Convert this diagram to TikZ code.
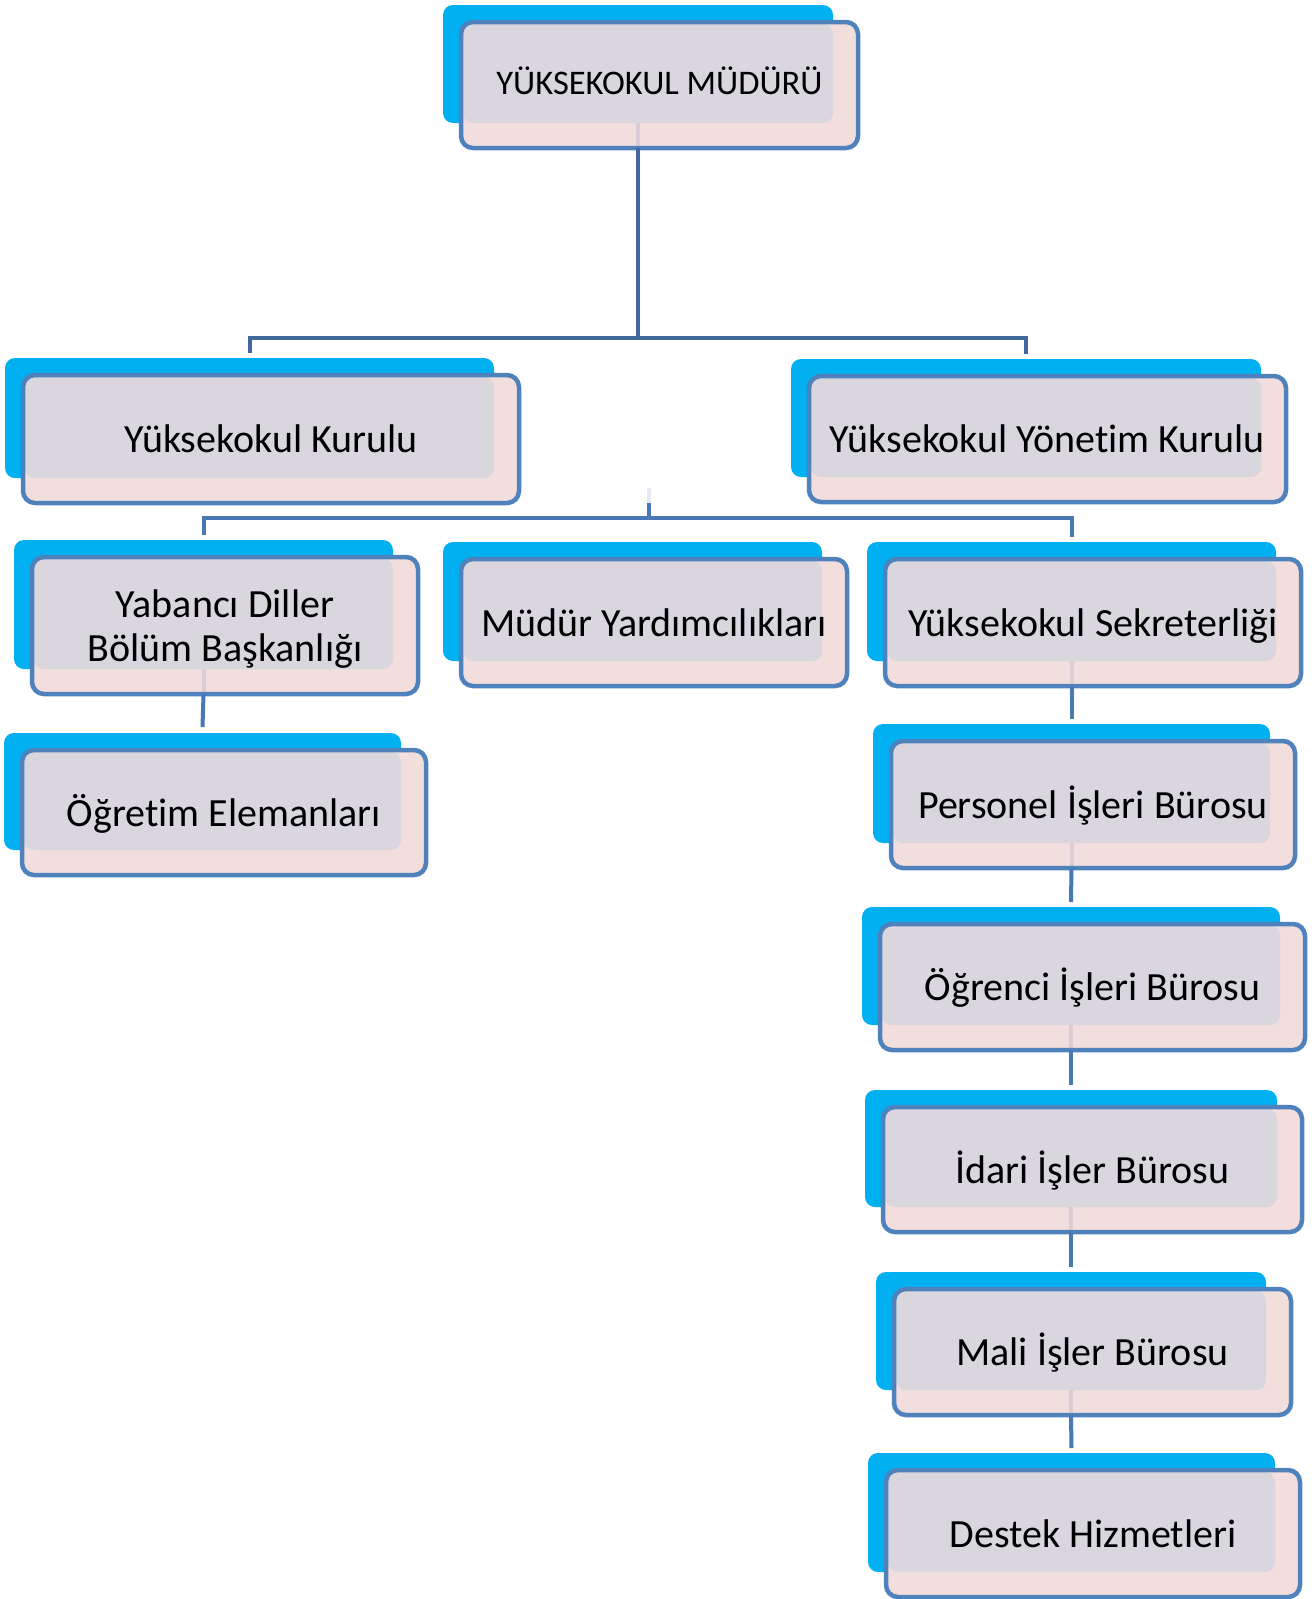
\documentclass[tikz,border=0pt]{standalone}
\usepackage{fontspec}
\setmainfont{Carlito}[Ligatures={NoCommon}]
\usetikzlibrary{calc}
\definecolor{bkblue}{HTML}{00B0F0}
\definecolor{pinkc}{HTML}{F2DEDD}
\definecolor{greyc}{HTML}{D9D6DE}
\definecolor{bordc}{HTML}{4F81BD}
\definecolor{connA}{HTML}{41679D}
\definecolor{connB}{HTML}{4A78B4}
\definecolor{paleA}{HTML}{D9CDD6}
\definecolor{paleB}{HTML}{E6EAF4}
\pgfdeclarelayer{bk}
\pgfdeclarelayer{mid}
\pgfsetlayers{bk,mid,main}
\tikzset{
  front/.style={draw=bordc, line width=4.5pt, rounded corners=12pt, inner sep=0pt, outer sep=0pt,
     align=center, text=black, font=\fontsize{40}{44}\selectfont, text height=27.5pt, text depth=0pt},
  titlefront/.style={front, font=\fontsize{34.5}{40}\selectfont, text height=18pt},
  twoline/.style={front, text height=71.5pt},
  back/.style={fill=bkblue, rounded corners=10pt, inner sep=0pt, outer sep=0pt},
  conn1/.style={draw=connA, line width=4pt},
  conn2/.style={draw=connB, line width=4pt},
  paleline/.style={draw=paleA, line width=4pt},
  palehub/.style={draw=paleB, line width=4pt}
}
% #1 style, #2 name, #3 L, #4 T, #5 R, #6 B, #7 text
\newcommand\orgbox[7]{%
  \node[#1, minimum width={#5-#3}, minimum height={#6-#4}] (#2) at ({(#3+#5)/2},{(#4+#6)/2}) {#7};
  \begin{pgfonlayer}{bk}
    \node[back, minimum width={#5-#3-7}, minimum height={#6-#4-8}] (#2b) at ({(#3+#5)/2-21.5},{(#4+#6)/2-21}) {};
  \end{pgfonlayer}
  \begin{pgfonlayer}{mid}
    \fill[pinkc, rounded corners=12pt] (#2.north west) rectangle (#2.south east);
    \fill[greyc, rounded corners=10pt] ($(#2.north west)+(2,2)$) rectangle (#2b.south east);
  \end{pgfonlayer}
}
% faint part of an outgoing connector seen through the box
\newcommand\palelink[1]{%
  \begin{pgfonlayer}{mid}
    \draw[paleline] (#1b.south) -- (#1b.south |- #1.south);
  \end{pgfonlayer}
}
\begin{document}
\begin{tikzpicture}[x=1pt,y=-1pt]
\useasboundingbox (0,0) rectangle (1315,1599);

\orgbox{titlefront}{t}{461}{22}{858}{148}{YÜKSEKOKUL MÜDÜRÜ}
\orgbox{front}{k}{23}{375}{519}{503}{Yüksekokul Kurulu}
\orgbox{front}{y}{809}{376}{1286}{502}{Yüksekokul Yönetim Kurulu}
\orgbox{twoline}{yd}{32}{557}{418}{694}{Yabancı Diller\\Bölüm Başkanlığı}
\orgbox{front}{md}{461}{559}{847}{686}{Müdür Yardımcılıkları}
\orgbox{front}{sk}{885}{559}{1301}{686}{Yüksekokul Sekreterliği}
\orgbox{front}{oe}{22}{750}{426}{875}{Öğretim Elemanları}
\orgbox{front}{pe}{891}{741}{1295}{868}{Personel İşleri Bürosu}
\orgbox{front}{og}{880}{924}{1305}{1050}{Öğrenci İşleri Bürosu}
\orgbox{front}{id}{883}{1107}{1302}{1232}{İdari İşler Bürosu}
\orgbox{front}{ma}{894}{1289}{1291}{1415}{Mali İşler Bürosu}
\orgbox{front}{de}{886}{1470}{1300}{1597}{Destek Hizmetleri}

\palelink{t}
\palelink{yd}
\palelink{sk}
\palelink{pe}
\palelink{og}
\palelink{id}
\palelink{ma}

% first level tree
\coordinate (h1) at (640,338);
\draw[conn1] (tb.south |- t.south) -- (tb.south |- h1);
\draw[conn1] ($(kb.north)+(0,-5)$) |- (h1) -| ($(yb.north)+(0,-5)$);

% second level tree
\coordinate (h2top) at (649,488);
\coordinate (h2mid) at (649,503);
\coordinate (h2) at (649,518);
\draw[palehub] (h2top) -- (h2mid);
\draw[conn2] (h2mid) -- (h2);
\draw[conn2] ($(ydb.north)+(0,-5)$) |- (h2) -| ($(skb.north)+(0,-5)$);

% Yabanci Diller -> Ogretim Elemanlari
\draw[conn2] (ydb.south |- yd.south) -- ($(oeb.north)+(0,-6)$);

% right column chain
\draw[conn2] (skb.south |- sk.south) -- ($(peb.north)+(0,-5)$);
\draw[conn2] (peb.south |- pe.south) -- ($(ogb.north)+(0,-5)$);
\draw[conn2] (ogb.south |- og.south) -- ($(idb.north)+(0,-5)$);
\draw[conn2] (idb.south |- id.south) -- ($(mab.north)+(0,-5)$);
\draw[conn2] (mab.south |- ma.south) -- ($(deb.north)+(0,-5)$);
\end{tikzpicture}
\end{document}
